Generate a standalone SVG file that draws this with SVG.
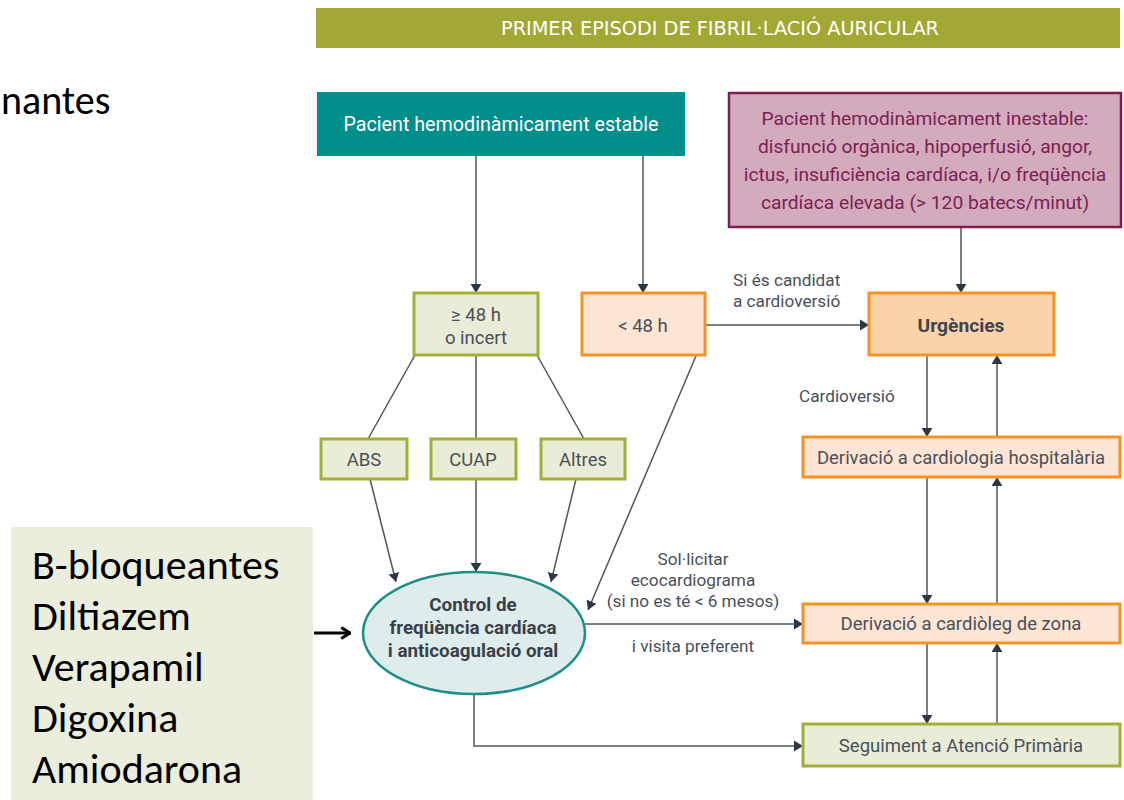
<svg xmlns="http://www.w3.org/2000/svg" width="1124" height="800" viewBox="0 0 1124 800">
<style>
.t{font-family:Roboto,"Liberation Sans",sans-serif;fill:#4a4f5a;text-anchor:middle;font-size:18.5px}
.lbl{font-family:Roboto,"Liberation Sans",sans-serif;fill:#4a4f5a;font-size:17.2px}
.c{stroke:#4d5562;stroke-width:1.5;fill:none}
.ca{stroke:#4d5562;stroke-width:1.5;fill:none;marker-end:url(#ah)}
.olive{fill:#e9edd8;stroke:#a3ae35;stroke-width:3}
.orange{fill:#fde5d3;stroke:#f39325;stroke-width:3}
.big{font-family:Calibri,Carlito,"Liberation Sans",sans-serif;font-size:42px;fill:#000}
</style>
<defs>
<marker id="ah" viewBox="0 0 10 12" markerUnits="userSpaceOnUse" markerWidth="9" markerHeight="12" refX="10" refY="6" orient="auto">
<path d="M0,0 L10,6 L0,12 z" fill="#2d3642"/>
</marker>
<marker id="bk" viewBox="0 0 10 12" markerUnits="userSpaceOnUse" markerWidth="11" markerHeight="14" refX="9" refY="6" orient="auto">
<path d="M1,1 L9,6 L1,11" fill="none" stroke="#000" stroke-width="2.8"/>
</marker>
</defs>
<rect width="1124" height="800" fill="#fff"/>

<g id="title">
<rect x="316" y="8" width="804" height="40" fill="#a2a834"/>
<text x="720" y="35" font-family="'Liberation Sans Narrow','DejaVu Sans Condensed',sans-serif" font-size="20" fill="#fff" text-anchor="middle" textLength="438" lengthAdjust="spacingAndGlyphs">PRIMER EPISODI DE FIBRIL·LACIÓ AURICULAR</text>
</g>

<text class="big" x="1" y="114" style="font-size:40px">nantes</text>

<g id="connectors">
<path class="ca" d="M476,156 V293"/>
<path class="ca" d="M643,156 V293"/>
<path class="ca" d="M961,227 V293"/>
<path class="ca" d="M705,325 H869"/>
<path class="c" d="M415,355 L368,439"/>
<path class="c" d="M476,355 V439"/>
<path class="c" d="M537,355 L584,439"/>
<path class="ca" d="M370,479 L396,582"/>
<path class="ca" d="M476,479 V572"/>
<path class="ca" d="M576,479 L551,582"/>
<path class="ca" d="M696,356 L588,610"/>
<path class="ca" d="M585,624 H803"/>
<path class="ca" d="M474,694 V746 H803"/>
<path class="ca" d="M927,355 V437"/>
<path class="ca" d="M997,437 V355"/>
<path class="ca" d="M927,477 V604"/>
<path class="ca" d="M997,604 V477"/>
<path class="ca" d="M927,643 V724"/>
<path class="ca" d="M997,724 V643"/>
<path d="M314,633 H350" stroke="#000" stroke-width="3" fill="none" marker-end="url(#bk)"/>
</g>

<g id="labels">
<text class="lbl" x="733" y="286">Si és candidat</text>
<text class="lbl" x="733" y="307">a cardioversió</text>
<text class="lbl" x="799" y="402">Cardioversió</text>
<text class="lbl" x="693" y="565" text-anchor="middle">Sol·licitar</text>
<text class="lbl" x="693" y="586" text-anchor="middle">ecocardiograma</text>
<text class="lbl" x="693" y="607" text-anchor="middle">(si no es té &lt; 6 mesos)</text>
<text class="lbl" x="693" y="652" text-anchor="middle">i visita preferent</text>
</g>

<g id="estable">
<rect x="317" y="92" width="368" height="64" fill="#028e8b"/>
<text class="t" x="501" y="131" style="fill:#fff;font-size:19.7px">Pacient hemodinàmicament estable</text>
</g>

<g id="inestable">
<rect x="729" y="93" width="392" height="134" fill="#d4aabd" stroke="#7d1c4f" stroke-width="2.5"/>
<g class="t" style="fill:#7a2252;font-size:19.2px">
<text x="925" y="125">Pacient hemodinàmicament inestable:</text>
<text x="925" y="153">disfunció orgànica, hipoperfusió, angor,</text>
<text x="925" y="181">ictus, insuficiència cardíaca, i/o freqüència</text>
<text x="925" y="209">cardíaca elevada (&gt; 120 batecs/minut)</text>
</g>
</g>

<g id="ge48">
<rect class="olive" x="414" y="293" width="124" height="62"/>
<text class="t" x="476" y="321">≥ 48 h</text>
<text class="t" x="476" y="344">o incert</text>
</g>

<g id="lt48">
<rect class="orange" x="582" y="293" width="123" height="62"/>
<text class="t" x="643" y="332">&lt; 48 h</text>
</g>

<g id="urgencies">
<rect x="869" y="293" width="185" height="62" fill="#fad3a8" stroke="#f39325" stroke-width="3"/>
<text class="t" x="961" y="332" style="font-weight:bold;fill:#3e4450;font-size:19.2px">Urgències</text>
</g>

<g id="abs">
<rect class="olive" x="321" y="439" width="86" height="40"/>
<text class="t" x="364" y="466">ABS</text>
</g>
<g id="cuap">
<rect class="olive" x="431" y="439" width="85" height="40"/>
<text class="t" x="473" y="466">CUAP</text>
</g>
<g id="altres">
<rect class="olive" x="541" y="439" width="84" height="40"/>
<text class="t" x="583" y="466">Altres</text>
</g>

<g id="hospitalaria">
<rect class="orange" x="803" y="437" width="317" height="40"/>
<text class="t" x="961" y="464">Derivació a cardiologia hospitalària</text>
</g>

<g id="control">
<ellipse cx="474" cy="633" rx="111" ry="61" fill="#deeceb" stroke="#1f8e88" stroke-width="2.5"/>
<g class="t" style="font-weight:bold;fill:#3a3f48;font-size:18.8px">
<text x="473" y="611">Control de</text>
<text x="473" y="634">freqüència cardíaca</text>
<text x="473" y="657">i anticoagulació oral</text>
</g>
</g>

<g id="zona">
<rect class="orange" x="803" y="604" width="317" height="39"/>
<text class="t" x="961" y="630">Derivació a cardiòleg de zona</text>
</g>

<g id="seguiment">
<rect class="olive" x="803" y="724" width="317" height="42"/>
<text class="t" x="961" y="752">Seguiment a Atenció Primària</text>
</g>

<g id="farmacs">
<rect x="11" y="527" width="302" height="273" fill="#ebeedd"/>
<text class="big" x="32" y="579">B-bloqueantes</text>
<text class="big" x="32" y="630">Diltiazem</text>
<text class="big" x="32" y="681">Verapamil</text>
<text class="big" x="32" y="732">Digoxina</text>
<text class="big" x="32" y="783">Amiodarona</text>
</g>
</svg>
